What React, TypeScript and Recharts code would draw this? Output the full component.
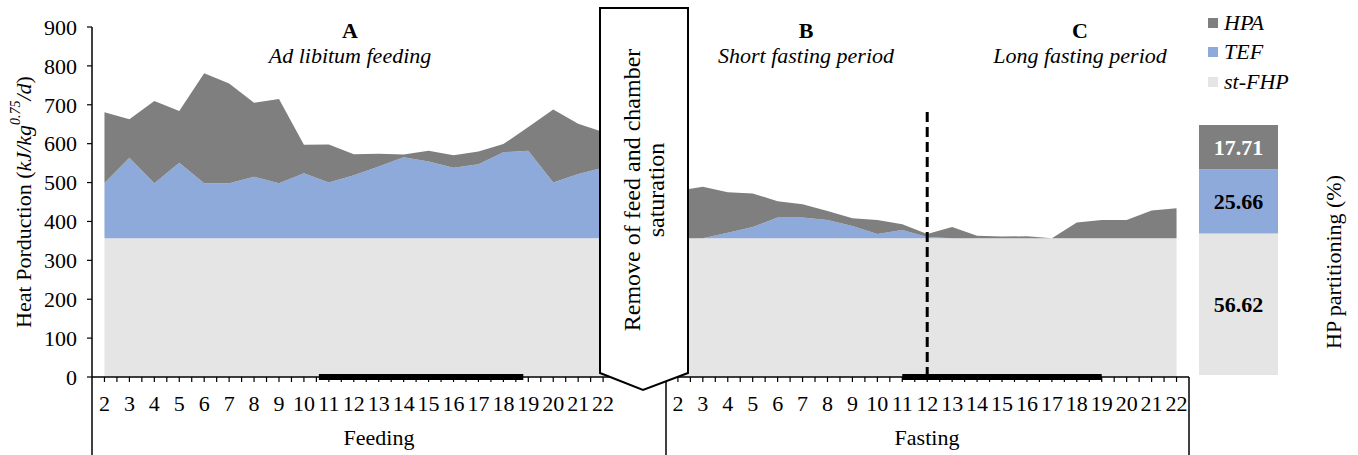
import React from "react";
import {
  ComposedChart,
  Area,
  XAxis,
  YAxis,
  ReferenceLine,
  Legend,
  BarChart,
  Bar,
  LabelList,
} from "recharts";

// days of each phase (tick labels)
const feedDays = ["2", "3", "4", "5", "6", "7", "8", "9", "10", "11", "12", "13", "14", "15", "16", "17", "18", "19", "20", "21", "22"];
const fastDays = ["2", "3", "4", "5", "6", "7", "8", "9", "10", "11", "12", "13", "14", "15", "16", "17", "18", "19", "20", "21", "22"];
// empty slots between feeding and fasting (hidden under the box)
const gapSlots = ["", ""];

// heat production parts, kJ/kg^0.75/d
const feedFHP = [357, 357, 357, 357, 357, 357, 357, 357, 357, 357, 357, 357, 357, 357, 357, 357, 357, 357, 357, 357, 357];
const feedTEF = [142, 207, 141, 194, 141, 141, 158, 141, 167, 143, 162, 184, 208, 197, 181, 190, 221, 225, 143, 165, 181];
const feedHPA = [182, 99, 212, 133, 283, 257, 190, 217, 73, 98, 54, 33, 7, 28, 32, 33, 21, 61, 188, 129, 92];

const fastFHP = [357, 357, 357, 357, 357, 357, 357, 357, 357, 357, 357, 357, 357, 357, 357, 357, 357, 357, 357, 357, 357];
const fastTEF = [0, 0, 14, 29, 53, 53, 47, 31, 11, 21, 3, 0, 0, 0, 0, 0, 0, 0, 0, 0, 0];
const fastHPA = [122, 132, 104, 86, 42, 34, 23, 20, 36, 15, 8, 29, 6, 4, 5, 0, 40, 47, 47, 71, 77];

// HP partitioning (%)
const partKeys = ["HPA", "TEF", "FHP"];
const partValues = [17.71, 25.66, 56.62];

// dark periods on the time axis (axis positions) and the B/C split (fasting day 12)
const darkPeriods = [
  [8.6, 16.8],
  [32, 40],
];
const splitPos = 33;
const splitTop = 686;

const yTicks = [0, 100, 200, 300, 400, 500, 600, 700, 800, 900];

const series = [
  { key: "FHP", name: "st-FHP", color: "#e5e5e5" },
  { key: "TEF", name: "TEF", color: "#8eaadb" },
  { key: "HPA", name: "HPA", color: "#7f7f7f" },
];
const legendOrder = ["HPA", "TEF", "st-FHP"];
const colorOf: any = { HPA: "#7f7f7f", TEF: "#8eaadb", "st-FHP": "#e5e5e5", FHP: "#e5e5e5" };

const rows: any[] = [
  ...feedDays.map((day, i) => ({ pos: i, day, FHP: feedFHP[i], TEF: feedTEF[i], HPA: feedHPA[i] })),
  ...gapSlots.map((day, i) => ({ pos: feedDays.length + i, day, FHP: null, TEF: null, HPA: null })),
  ...fastDays.map((day, i) => ({
    pos: feedDays.length + gapSlots.length + i,
    day,
    FHP: fastFHP[i],
    TEF: fastTEF[i],
    HPA: fastHPA[i],
  })),
];

const lastFeed = feedDays.length - 1;
const lastPos = rows.length - 1;
const xTicks = rows
  .filter((r) => r.day)
  .flatMap((r) => (r.pos === lastFeed || r.pos === lastPos ? [r.pos] : [r.pos, r.pos + 0.5]));

const partRow: any = { name: "HP" };
partKeys.forEach((k, i) => (partRow[k] = partValues[i]));

const FONT = '"Liberation Serif", "Times New Roman", Times, serif';

function DayTick(props: any) {
  const { x, y, payload } = props;
  const row = rows[payload.value];
  if (!row || !Number.isInteger(payload.value)) return <g />;
  return (
    <text x={x} y={y} dy="0.71em" textAnchor="middle" fontSize={22} fontFamily={FONT} fill="#000">
      {row.day}
    </text>
  );
}

function YTitle(props: any) {
  const vb = props.viewBox || { x: 0, y: 27, width: 92, height: 350 };
  const cx = vb.x + 23;
  const cy = vb.y + vb.height / 2;
  return (
    <text
      transform={`rotate(-90, ${cx}, ${cy})`}
      x={cx}
      y={cy}
      textAnchor="middle"
      dominantBaseline="central"
      fontSize={22}
      fontFamily={FONT}
      fill="#000"
    >
      Heat Porduction (<tspan fontStyle="italic">kJ/kg</tspan>
      <tspan fontStyle="italic" fontSize={14} dy={-8}>
        0.75
      </tspan>
      <tspan fontStyle="italic" dy={8}>
        /d
      </tspan>
      )
    </text>
  );
}

function LegendBox(props: any) {
  const items = [...(props.payload || [])].sort(
    (a: any, b: any) => legendOrder.indexOf(a.value) - legendOrder.indexOf(b.value)
  );
  return (
    <div style={{ fontFamily: FONT }}>
      {items.map((it: any) => (
        <div key={it.value} style={{ display: "flex", alignItems: "center", height: 29.5 }}>
          <span style={{ width: 10, height: 10, background: colorOf[it.value], display: "inline-block" }} />
          <span style={{ marginLeft: 6, fontStyle: "italic", fontSize: 22, lineHeight: 1, color: "#000" }}>
            {it.value}
          </span>
        </div>
      ))}
    </div>
  );
}

const panelTitles = [
  { x: 350, letter: "A", text: "Ad libitum feeding" },
  { x: 806, letter: "B", text: "Short fasting period" },
  { x: 1080, letter: "C", text: "Long fasting period" },
];

export default function App() {
  return (
    <div style={{ position: "absolute", left: 0, top: 0, width: 1358, height: 455, background: "#fff", fontFamily: FONT }}>
      <ComposedChart width={1358} height={455} data={rows} margin={{ top: 27, right: 169, bottom: 0, left: 0 }}>
        <XAxis
          type="number"
          dataKey="pos"
          domain={[-0.5, rows.length - 0.5]}
          ticks={xTicks}
          interval={0}
          allowDecimals
          tick={DayTick}
          tickSize={5}
          tickMargin={13}
          height={78}
          axisLine={{ stroke: "#000", strokeWidth: 1.5 }}
          tickLine={{ stroke: "#000", strokeWidth: 1.2 }}
        />
        <YAxis
          type="number"
          domain={[0, 900]}
          ticks={yTicks}
          interval={0}
          width={92}
          tickSize={5}
          tickMargin={10}
          tick={{ fill: "#000", fontSize: 22, fontFamily: FONT }}
          axisLine={{ stroke: "#000", strokeWidth: 1.5 }}
          tickLine={{ stroke: "#000", strokeWidth: 1.2 }}
          label={{ content: YTitle }}
        />
        {series.map((s) => (
          <Area
            key={s.key}
            type="linear"
            dataKey={s.key}
            name={s.name}
            stackId="hp"
            fill={s.color}
            fillOpacity={1}
            stroke="none"
            isAnimationActive={false}
          />
        ))}
        {darkPeriods.map((p, i) => (
          <ReferenceLine
            key={i}
            segment={[
              { x: p[0], y: 0 },
              { x: p[1], y: 0 },
            ]}
            stroke="#000"
            strokeWidth={6}
          />
        ))}
        <ReferenceLine
          segment={[
            { x: splitPos, y: 0 },
            { x: splitPos, y: splitTop },
          ]}
          stroke="#000"
          strokeWidth={3}
          strokeDasharray="10 5"
        />
        <Legend
          layout="vertical"
          align="center"
          verticalAlign="middle"
          wrapperStyle={{ left: 1208, top: 8, width: 150 }}
          content={LegendBox}
        />
      </ComposedChart>

      <div style={{ position: "absolute", left: 1199, top: 125 }}>
        <BarChart width={79} height={250} data={[partRow]} margin={{ top: 0, right: 0, bottom: 0, left: 0 }} barCategoryGap={0}>
          <XAxis dataKey="name" hide />
          <YAxis domain={[0, 100]} hide />
          {["FHP", "TEF", "HPA"].map((k) => (
            <Bar key={k} dataKey={k} stackId="p" fill={colorOf[k]} isAnimationActive={false}>
              <LabelList
                dataKey={k}
                position="center"
                fill={k === "HPA" ? "#fff" : "#000"}
                fontSize={22}
                fontWeight="bold"
                fontFamily={FONT}
                formatter={(v: any) => Number(v).toFixed(2)}
              />
            </Bar>
          ))}
        </BarChart>
      </div>

      <svg width={1358} height={455} fontFamily={FONT} style={{ position: "absolute", left: 0, top: 0, pointerEvents: "none" }}>
        <polygon points="600,8 688,8 688,373 643,390 600,373" fill="#fff" stroke="#000" strokeWidth={2} />
        <text transform="translate(644,190) rotate(-90)" textAnchor="middle" dominantBaseline="central" fontSize={24} fill="#000">
          <tspan x={0} y={-12}>
            Remove of feed and chamber
          </tspan>
          <tspan x={0} y={12}>
            saturation
          </tspan>
        </text>
        {panelTitles.map((t) => (
          <g key={t.letter}>
            <text x={t.x} y={30} textAnchor="middle" dominantBaseline="central" fontWeight="bold" fontSize={22} fill="#000">
              {t.letter}
            </text>
            <text x={t.x} y={55} textAnchor="middle" dominantBaseline="central" fontStyle="italic" fontSize={22} fill="#000">
              {t.text}
            </text>
          </g>
        ))}
        <line x1={92} y1={377} x2={92} y2={455} stroke="#000" strokeWidth={1.5} />
        <line x1={666} y1={381} x2={666} y2={455} stroke="#000" strokeWidth={1.5} />
        <line x1={1189} y1={377} x2={1189} y2={455} stroke="#000" strokeWidth={1.5} />
        <text x={379} y={437} textAnchor="middle" dominantBaseline="central" fontSize={22} fill="#000">
          Feeding
        </text>
        <text x={927} y={437} textAnchor="middle" dominantBaseline="central" fontSize={22} fill="#000">
          Fasting
        </text>
        <text transform="translate(1333,262) rotate(-90)" textAnchor="middle" dominantBaseline="central" fontSize={22} fill="#000">
          HP partitioning (%)
        </text>
      </svg>
    </div>
  );
}
